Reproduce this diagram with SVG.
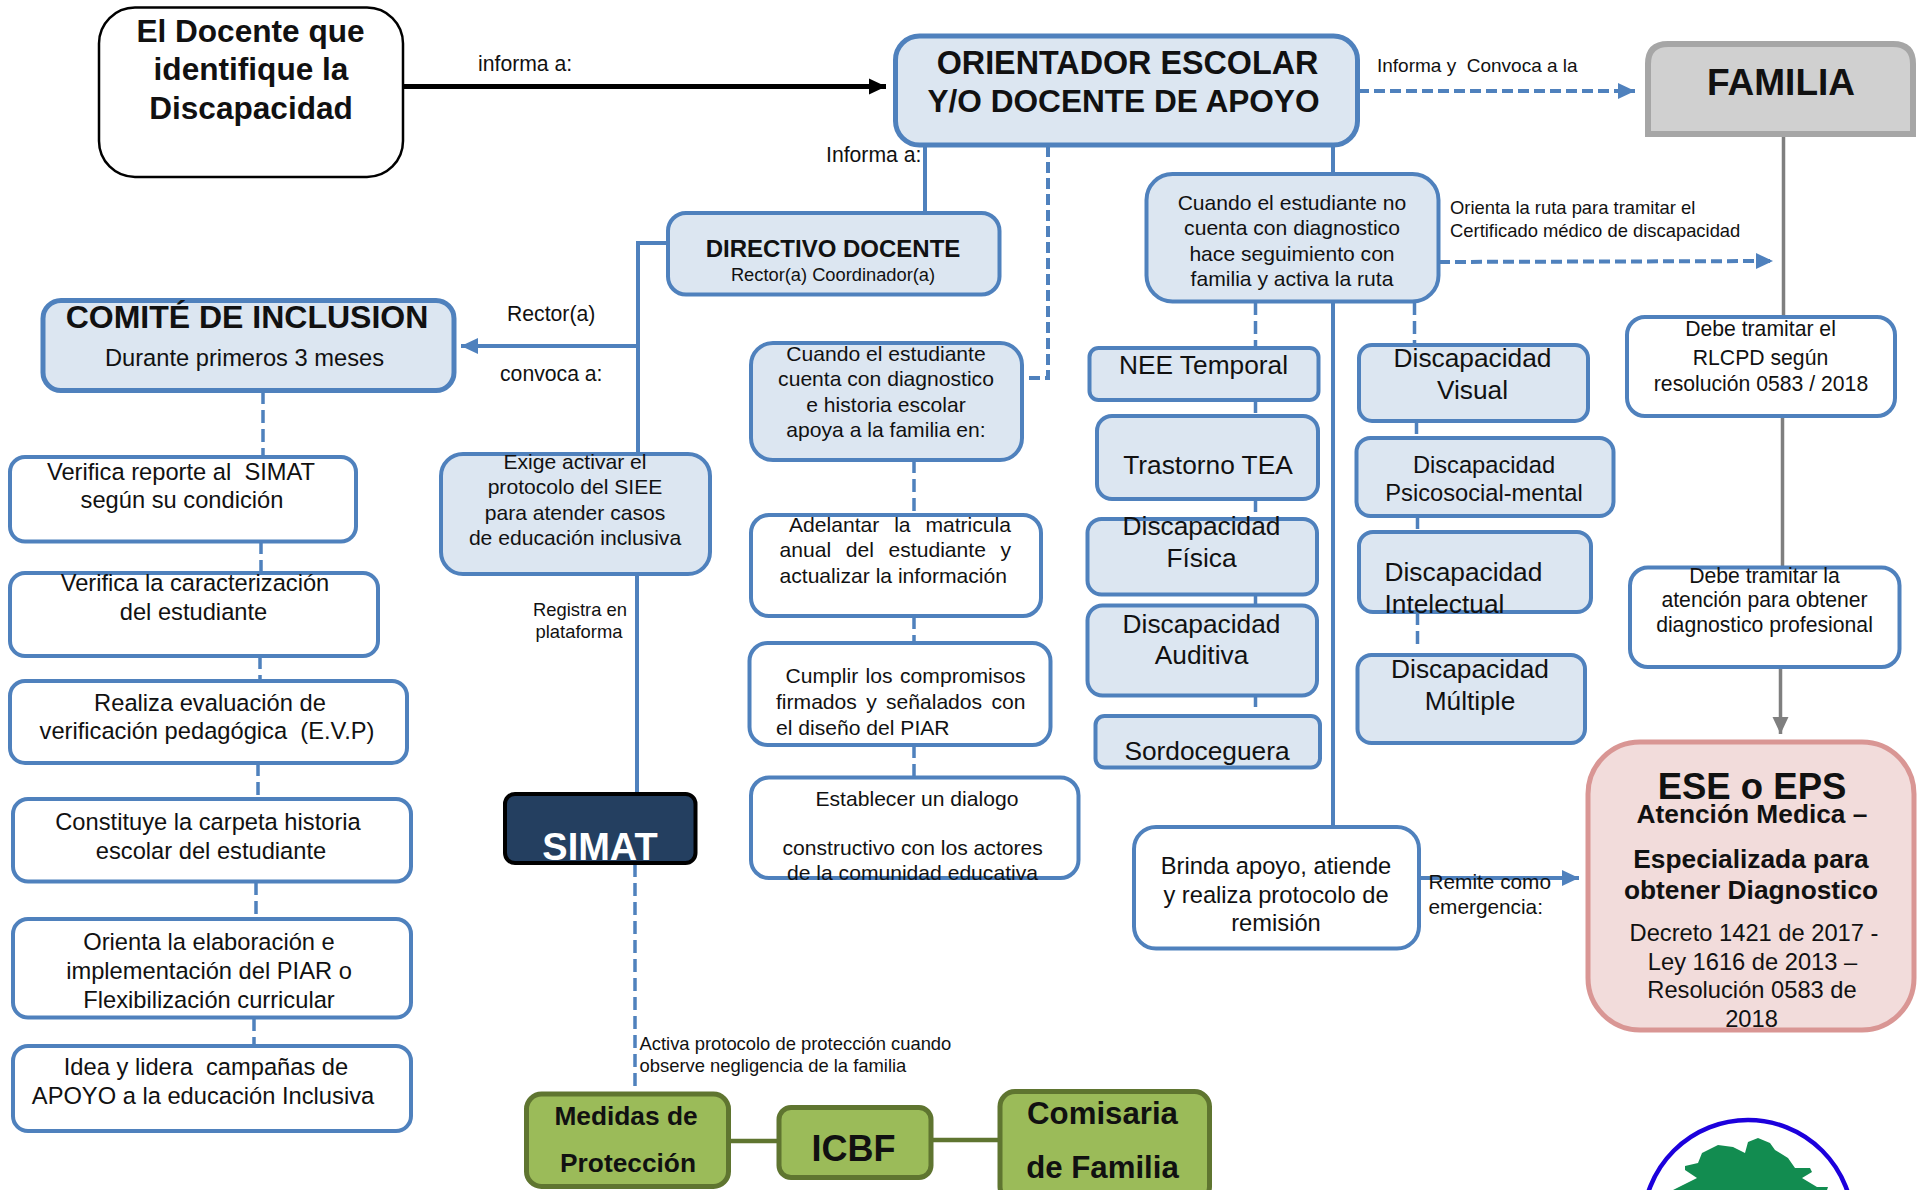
<svg xmlns="http://www.w3.org/2000/svg" width="1923" height="1190" viewBox="0 0 1923 1190">
<style>
text{font-family:"Liberation Sans",Arial,sans-serif;fill:#111;text-anchor:middle}
.l{text-anchor:start}
.b{font-weight:bold}
.f18{font-size:18.400px}.f19{font-size:18.300px}.f20{font-size:21.100px}.f21{font-size:21.200px}.f23{font-size:23.700px}.f26{font-size:26.300px}
.blue{fill:#dce6f1;stroke:#4f81bd;stroke-width:4}
.white{fill:#fff;stroke:#4f81bd;stroke-width:4}
.big{stroke-width:5}
.green{fill:#9bbb59;stroke:#5f7530;stroke-width:5}
.c{fill:none;stroke:#4f81bd;stroke-width:4}
.d{stroke-dasharray:11 5}
.t{stroke-width:3.500;stroke-dasharray:13 6}
.g{fill:none;stroke:#7f7f7f;stroke-width:3.500}
.o{fill:none;stroke:#5f7530;stroke-width:4.500}
</style>
<defs>
<marker id="ab" markerUnits="userSpaceOnUse" markerWidth="18" markerHeight="18" refX="17" refY="9" orient="auto"><path d="M0 1L17 9L0 17z" fill="#4f81bd"/></marker>
<marker id="ak" markerUnits="userSpaceOnUse" markerWidth="18" markerHeight="18" refX="17" refY="9" orient="auto"><path d="M0 1L17 9L0 17z" fill="#000"/></marker>
<marker id="ag" markerUnits="userSpaceOnUse" markerWidth="18" markerHeight="18" refX="17" refY="9" orient="auto"><path d="M0 1L17 9L0 17z" fill="#7f7f7f"/></marker>
</defs>

<g id="connectors">
<path d="M403 86.500H886" fill="none" stroke="#000" stroke-width="5" marker-end="url(#ak)"/>
<path class="c d" d="M1358 91H1635" marker-end="url(#ab)"/>
<path class="c" d="M925 146V212"/>
<path class="c d" d="M1048 146V378H1021"/>
<path class="c" d="M1333 146V175M1333 302V827"/>
<path class="c" d="M668 243H638V454"/>
<path class="c" d="M638 346H461" marker-end="url(#ab)"/>
<path class="c" d="M637 574V794"/>
<path class="c t" d="M635 864V1094"/>
<path class="c t" d="M263 391V457M261 541V573M260 656V681M258 763V799M256 882V919M254 1018V1046"/>
<path class="c t" d="M914 460V515M914 616V643M914 745V778"/>
<path class="c d" d="M1439 262L1773 261" marker-end="url(#ab)"/>
<path class="c t" d="M1255.500 302V348M1255.500 400V416M1255.500 499V518M1255.500 594V605M1255.500 695V707"/>
<path class="c t" d="M1414.500 302V345M1416.500 421V442M1417.500 516V532M1417.500 612V650"/>
<path class="g" d="M1783.500 136V317M1782.500 416V568"/>
<path class="g" d="M1780.500 667V734" marker-end="url(#ag)"/>
<path class="c" d="M1419 878H1579" marker-end="url(#ab)"/>
<path class="o" d="M729 1141H779M931 1140H1000"/>
</g>

<g id="docente">
<rect x="99" y="7.500" width="304" height="169.500" rx="36" fill="#fff" stroke="#000" stroke-width="2.500"/>
<text class="b" font-size="31.600" x="250.500" y="42">El Docente que</text>
<text class="b" font-size="31.600" x="251" y="80">identifique la</text>
<text class="b" font-size="31.600" x="251" y="119">Discapacidad</text>
</g>
<g id="orientador">
<rect class="blue big" x="895.500" y="36" width="462" height="109" rx="24"/>
<text class="b" font-size="32.300" x="1127.500" y="73.500">ORIENTADOR ESCOLAR</text>
<text class="b" font-size="31.600" x="1123.500" y="112">Y/O DOCENTE DE APOYO</text>
</g>
<g id="familia">
<path d="M1668 44H1893Q1913 44 1913 64V134H1648V64Q1648 44 1668 44Z" fill="#d0d0d0" stroke="#a6a6a6" stroke-width="6"/>
<text class="b" font-size="37" x="1781" y="94.500">FAMILIA</text>
</g>
<g id="directivo">
<rect class="blue" x="668" y="213" width="331.500" height="81.500" rx="18"/>
<text class="b" font-size="24" x="833" y="257">DIRECTIVO DOCENTE</text>
<text class="f19" x="833" y="281">Rector(a) Coordinador(a)</text>
</g>
<g id="comite">
<rect class="blue big" x="43" y="300.500" width="411" height="90" rx="18"/>
<text class="b" font-size="32" x="247" y="328">COMITÉ DE INCLUSION</text>
<text class="f23" x="244.500" y="365.500">Durante primeros 3 meses</text>
</g>
<g id="verifica-reporte">
<rect class="white" x="10" y="457" width="346" height="84.500" rx="15"/>
<text class="f23" x="181" y="480" xml:space="preserve">Verifica reporte al  SIMAT</text>
<text class="f23" x="182" y="508">según su condición</text>
</g>
<g id="verifica-caracterizacion">
<rect class="white" x="10" y="573" width="368" height="83" rx="15"/>
<text class="f23" x="195" y="591">Verifica la caracterización</text>
<text class="f23" x="193.500" y="620">del estudiante</text>
</g>
<g id="realiza">
<rect class="white" x="10" y="681" width="397" height="82" rx="15"/>
<text class="f23" x="210" y="711">Realiza evaluación de</text>
<text class="f23" x="207" y="739" xml:space="preserve">verificación pedagógica  (E.V.P)</text>
</g>
<g id="constituye">
<rect class="white" x="13" y="799" width="398" height="82.500" rx="15"/>
<text class="f23" x="208" y="830">Constituye la carpeta historia</text>
<text class="f23" x="211" y="859">escolar del estudiante</text>
</g>
<g id="orienta">
<rect class="white" x="13" y="919" width="398" height="98.500" rx="15"/>
<text class="f23" x="209" y="950">Orienta la elaboración e</text>
<text class="f23" x="209" y="979">implementación del PIAR o</text>
<text class="f23" x="209" y="1008">Flexibilización curricular</text>
</g>
<g id="idea">
<rect class="white" x="13" y="1046" width="398" height="85" rx="15"/>
<text class="f23" x="206" y="1075" xml:space="preserve">Idea y lidera  campañas de</text>
<text class="f23" x="203" y="1103.500">APOYO a la educación Inclusiva</text>
</g>
<g id="exige">
<rect class="blue" x="441" y="454" width="269" height="120" rx="22"/>
<text class="f20" x="575" y="468.500">Exige activar el</text>
<text class="f20" x="575" y="494">protocolo del SIEE</text>
<text class="f20" x="575" y="520">para atender casos</text>
<text class="f20" x="575" y="545">de educación inclusiva</text>
</g>
<g id="cuando-con">
<rect class="blue" x="751" y="343" width="271" height="117" rx="22"/>
<text class="f20" x="886" y="360.500">Cuando el estudiante</text>
<text class="f20" x="886" y="386">cuenta con diagnostico</text>
<text class="f20" x="886" y="411.500">e historia escolar</text>
<text class="f20" x="886" y="437">apoya a la familia en:</text>
</g>
<g id="adelantar">
<rect class="white" x="751" y="515" width="290" height="101" rx="18"/>
<text class="f20 l" x="789" y="532" word-spacing="9">Adelantar la matricula</text>
<text class="f20 l" x="779.500" y="557" word-spacing="8.800">anual del estudiante y</text>
<text class="f20 l" x="779.500" y="583">actualizar la información</text>
</g>
<g id="cumplir">
<rect class="white" x="749.500" y="643" width="301" height="102" rx="18"/>
<text class="f20 l" x="785.500" y="683" word-spacing="1.600">Cumplir los compromisos</text>
<text class="f20 l" x="776" y="708.500" word-spacing="3.400">firmados y señalados con</text>
<text class="f20 l" x="776" y="734.500">el diseño del PIAR</text>
</g>
<g id="establecer">
<rect class="white" x="751" y="777.500" width="327.500" height="100.500" rx="18"/>
<text class="f20 l" x="815.500" y="806">Establecer un dialogo</text>
<text class="f20 l" x="782.500" y="855">constructivo con los actores</text>
<text class="f20 l" x="787" y="880">de la comunidad educativa</text>
</g>
<g id="cuando-sin">
<rect class="blue" x="1146.500" y="174" width="292" height="127.500" rx="26"/>
<text class="f20" x="1292" y="210">Cuando el estudiante no</text>
<text class="f20" x="1292" y="235">cuenta con diagnostico</text>
<text class="f20" x="1292" y="261">hace seguimiento con</text>
<text class="f20" x="1292" y="286">familia y activa la ruta</text>
</g>
<g id="nee-temporal">
<rect class="blue" x="1089.500" y="348" width="229" height="52" rx="9"/>
<text class="f26" x="1203.500" y="373.500">NEE Temporal</text>
</g>
<g id="trastorno-tea">
<rect class="blue" x="1097" y="416" width="221" height="83" rx="15"/>
<text class="f26" x="1208" y="474">Trastorno TEA</text>
</g>
<g id="fisica">
<rect class="blue" x="1087.500" y="519" width="229.500" height="75.500" rx="14"/>
<text class="f26" x="1201.500" y="534.500">Discapacidad</text>
<text class="f26" x="1201.500" y="566.500">Física</text>
</g>
<g id="auditiva">
<rect class="blue" x="1087.500" y="605.500" width="229.500" height="90" rx="15"/>
<text class="f26" x="1201.500" y="632.500">Discapacidad</text>
<text class="f26" x="1201.500" y="664">Auditiva</text>
</g>
<g id="sordoceguera">
<rect class="blue" x="1095.500" y="716" width="224.500" height="51.500" rx="9"/>
<text class="f26" x="1207" y="759.500">Sordoceguera</text>
</g>
<g id="visual">
<rect class="blue" x="1359" y="345" width="229" height="76" rx="13"/>
<text class="f26" x="1472.500" y="366.500">Discapacidad</text>
<text class="f26" x="1472.500" y="399">Visual</text>
</g>
<g id="psicosocial">
<rect class="blue" x="1356.500" y="438" width="257" height="78" rx="14"/>
<text class="f23" x="1484" y="472.500">Discapacidad</text>
<text class="f23" x="1484" y="501">Psicosocial-mental</text>
</g>
<g id="intelectual">
<rect class="blue" x="1359" y="532" width="232" height="80" rx="14"/>
<text class="f26 l" x="1384.500" y="580.500">Discapacidad</text>
<text class="f26 l" x="1384.500" y="612.500">Intelectual</text>
</g>
<g id="multiple">
<rect class="blue" x="1357.500" y="655" width="227.500" height="88" rx="14"/>
<text class="f26" x="1470" y="677.500">Discapacidad</text>
<text class="f26" x="1470" y="709.500">Múltiple</text>
</g>
<g id="debe-tramitar-rlcpd">
<rect class="white" x="1627" y="317" width="268" height="99" rx="18"/>
<text class="f21" x="1760.500" y="335.500">Debe tramitar el</text>
<text class="f21" x="1760.500" y="364.500">RLCPD según</text>
<text class="f21" x="1761" y="391">resolución 0583 / 2018</text>
</g>
<g id="debe-tramitar-atencion">
<rect class="white" x="1630" y="567.500" width="269.500" height="99.500" rx="18"/>
<text class="f21" x="1764.500" y="582.500">Debe tramitar la</text>
<text class="f21" x="1764.500" y="607">atención para obtener</text>
<text class="f21" x="1764.500" y="632">diagnostico profesional</text>
</g>
<g id="brinda">
<rect class="white" x="1134" y="827" width="285" height="121.500" rx="22"/>
<text class="f23" x="1276" y="873.500">Brinda apoyo, atiende</text>
<text class="f23" x="1276" y="902.500">y realiza protocolo de</text>
<text class="f23" x="1276" y="931">remisión</text>
</g>
<g id="ese-eps">
<rect x="1588" y="742" width="326" height="288" rx="52" fill="#f2dcdb" stroke="#d99694" stroke-width="5"/>
<text class="b" font-size="36.500" x="1752" y="798.500">ESE o EPS</text>
<text class="b f26" x="1752" y="822.500">Atención Medica –</text>
<text class="b f26" x="1751" y="867.500">Especializada para</text>
<text class="b f26" x="1751" y="899">obtener Diagnostico</text>
<text class="f23" x="1754" y="941">Decreto 1421 de 2017 -</text>
<text class="f23" x="1752.500" y="970">Ley 1616 de 2013 –</text>
<text class="f23" x="1752" y="998">Resolución 0583 de</text>
<text class="f23" x="1751.500" y="1027">2018</text>
</g>
<g id="simat">
<rect x="505" y="794" width="190.500" height="69" rx="10" fill="#243f60" stroke="#000" stroke-width="4"/>
<text class="b" font-size="38" x="600" y="859.500" style="fill:#fff">SIMAT</text>
</g>
<g id="medidas">
<rect class="green" x="526.500" y="1094" width="202" height="92.500" rx="15"/>
<text class="b f26" x="626" y="1125">Medidas de</text>
<text class="b f26" x="628" y="1172">Protección</text>
</g>
<g id="icbf">
<rect class="green" x="779" y="1107.500" width="152" height="70" rx="12"/>
<text class="b" font-size="36" x="853.500" y="1160.500">ICBF</text>
</g>
<g id="comisaria">
<rect class="green" x="1000" y="1091.500" width="209.500" height="110" rx="15"/>
<text class="b" font-size="31.200" x="1102.500" y="1124">Comisaria</text>
<text class="b" font-size="31.200" x="1102.500" y="1177.500">de Familia</text>
</g>
<g id="labels">
<text class="f21 l" x="478" y="71">informa a:</text>
<text class="f21 l" x="826" y="162">Informa a:</text>
<text class="f19 l" x="1377" y="72" style="font-size:19px" xml:space="preserve">Informa y  Convoca a la</text>
<text class="f21 l" x="507" y="320.500">Rector(a)</text>
<text class="f21 l" x="500" y="381">convoca a:</text>
<text class="f18" x="580" y="616">Registra en</text>
<text class="f18" x="579" y="638">plataforma</text>
<text class="f18 l" x="1450" y="214">Orienta la ruta para tramitar el</text>
<text class="f18 l" x="1450" y="237">Certificado médico de discapacidad</text>
<text class="f20 l" x="1428.500" y="889" style="font-size:20.800px">Remite como</text>
<text class="f20 l" x="1428.500" y="914" style="font-size:20.800px">emergencia:</text>
<text class="f18 l" x="639.500" y="1050">Activa protocolo de protección cuando</text>
<text class="f18 l" x="639.500" y="1072">observe negligencia de la familia</text>
</g>
<g id="logo">
<circle cx="1748" cy="1225" r="105" fill="#fff" stroke="#1c00dc" stroke-width="4.500"/>
<path d="M1673 1190L1683 1185L1697 1178L1685 1170L1685 1166L1698 1163L1702 1153L1718 1145L1733 1147L1745 1153L1748 1142L1758 1138L1770 1143L1775 1150L1788 1158L1795 1168L1810 1168L1812 1172L1802 1178L1817 1187L1828 1187L1827 1190Z" fill="#128c50"/>
</g>
</svg>
